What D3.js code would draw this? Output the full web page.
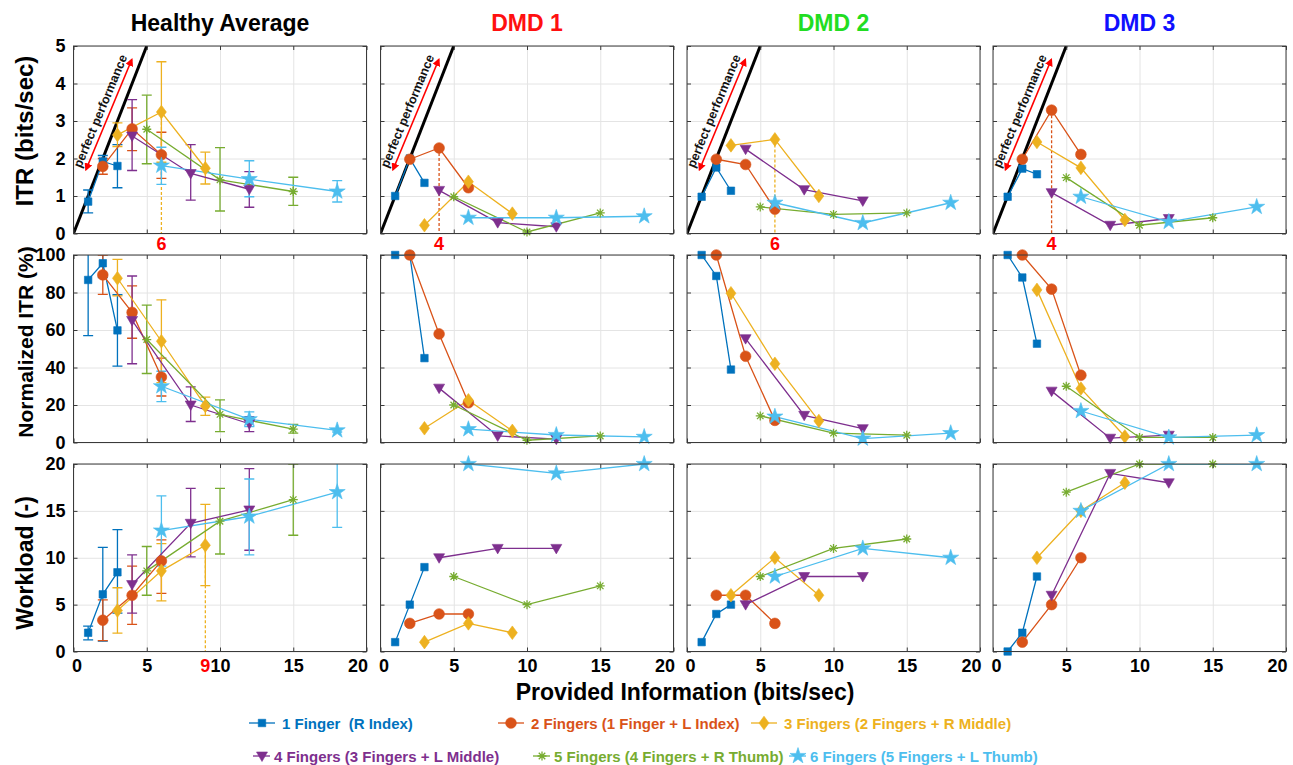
<!DOCTYPE html>
<html>
<head>
<meta charset="utf-8">
<script src="https://cdn.jsdelivr.net/npm/d3@7"></script>
<style>
  body { margin: 0; background: #fff; }
  svg text { font-family: "Liberation Sans", Arial, Helvetica, sans-serif; }
</style>
</head>
<body>
<svg id="chart" width="1293" height="765"></svg>
<script>
// ---- data ----
const columns = ['Healthy Average', 'DMD 1', 'DMD 2', 'DMD 3'];
const seriesNames = [
  '1 Finger  (R Index)',
  '2 Fingers (1 Finger + L Index)',
  '3 Fingers (2 Fingers + R Middle)',
  '4 Fingers (3 Fingers + L Middle)',
  '5 Fingers (4 Fingers + R Thumb)',
  '6 Fingers (5 Fingers + L Thumb)'
];
// provided information (bits/sec) for each finger set
const seriesX = [[1, 2, 3], [2, 4, 6], [3, 6, 9], [4, 8, 12], [5, 10, 15], [6, 12, 18]];
const xTicks = [0, 5, 10, 15, 20];

// ITR (bits/sec)
const itrHealthy = [[0.85, 1.92, 1.8], [1.79, 2.79, 2.1], [2.63, 3.24, 1.74], [2.6, 1.6, 1.18], [2.78, 1.43, 1.12], [1.81, 1.45, 1.12]];
const itrHealthyErr = [
  [[0.55, 1.16], [1.76, 2.08], [1.22, 2.37]],
  [[1.58, 2.0], [2.21, 3.35], [1.47, 2.7]],
  [[2.32, 2.95], [1.9, 4.58], [1.32, 2.17]],
  [[1.68, 3.57], [0.89, 2.37], [0.7, 1.65]],
  [[1.86, 3.69], [0.6, 2.29], [0.75, 1.5]],
  [[1.31, 2.3], [0.98, 1.94], [0.84, 1.41]]
];
const itrDMD1 = [[1.0, 2.0, 1.35], [1.98, 2.28, 1.22], [0.22, 1.38, 0.53], [1.15, 0.29, 0.18], [0.98, 0.04, 0.55], [0.42, 0.42, 0.46]];
const itrDMD2 = [[0.98, 1.76, 1.14], [1.98, 1.84, 0.65], [2.35, 2.51, 1.0], [2.25, 1.17, 0.87], [0.71, 0.51, 0.55], [0.82, 0.28, 0.82]];
const itrDMD3 = [[0.98, 1.73, 1.58], [1.98, 3.29, 2.11], [2.44, 1.75, 0.36], [1.09, 0.22, 0.4], [1.49, 0.22, 0.42], [0.98, 0.31, 0.71]];

// Normalized ITR (%)
const nitrHealthy = [[86.7, 95.6, 59.8], [89.4, 69.4, 34.9], [87.6, 54, 19.5], [65.1, 20, 10], [54.9, 15, 7.1], [30, 12.4, 6.5]];
const nitrHealthyErr = [
  [[57, 116], [88, 103], [40.7, 78.8]],
  [[79, 100], [55.6, 83.5], [24.8, 45]],
  [[78.2, 97.7], [31.9, 76.1], [14.5, 24.2]],
  [[42, 88.8], [11.2, 29.7], [5.8, 13.8]],
  [[36.8, 73.3], [5.8, 22.7], [5, 9.7]],
  [[21.8, 38], [8.5, 16.3], [5.6, 7.4]]
];
const nitrDMD1 = [[100, 100, 45], [100, 57.9, 21.2], [7.6, 22.5, 6.2], [29, 3.5, 1.8], [20, 1.2, 3.5], [7.1, 4, 3]];
const nitrDMD2 = [[100, 88.8, 38.9], [100, 46, 11.8], [79.6, 42, 11.5], [55.4, 14.5, 7.4], [14.2, 5, 3.9], [13.8, 2.1, 5]];
const nitrDMD3 = [[100, 88, 52.7], [100, 81.8, 35.9], [81.4, 28.8, 3.2], [27.4, 2.3, 3.9], [30, 2.7, 2.7], [16.8, 2.7, 3.9]];

// Workload (-)
const workHealthy = [[2.0, 6.1, 8.45], [3.34, 6.0, 9.66], [4.37, 8.6, 11.33], [7.14, 13.68, 15.1], [8.6, 13.9, 16.2], [12.9, 14.4, 17.0]];
const workHealthyErr = [
  [[1.25, 2.7], [1.1, 11.1], [4.1, 13]],
  [[1.15, 5.5], [2.9, 9.1], [6.2, 11.9]],
  [[1.95, 6.8], [5.4, 11.5], [7.03, 15.7]],
  [[4.1, 10.3], [10.1, 17.4], [10.8, 19.5]],
  [[6.0, 11.2], [10.4, 17.4], [12.4, 20]],
  [[9.1, 16.6], [10.3, 18.4], [13.25, 20.8]]
];
const workDMD1 = [[1, 5, 9], [3, 4, 4], [1, 3, 2], [10, 11, 11], [8, 5, 7], [20, 19, 20]];
const workDMD2 = [[1, 4, 5], [6, 6, 3], [6, 10, 6], [5, 8, 8], [8, 11, 12], [8, 11, 10]];
const workDMD3 = [[0, 2, 8], [1, 5, 10], [10, 15, 18], [6, 19, 18], [17, 20, 20], [15, 20, 20]];

// peak ITR marks (x, and which series), workload mark on healthy
const peakX = [6, 4, 6, 4];
const peakSeries = [2, 1, 2, 1];
const workMarkX = 9, workMarkSeries = 2;

// ---- layout / style ----
const colors = ['#0072BD', '#D95319', '#EDB120', '#7E2F8E', '#77AC30', '#4DBEEE'];
const titleColors = ['#000000', '#FF1010', '#22DD22', '#1010FF'];
const colLeft = [73.5, 380.5, 687, 993];
const rowTop = [46, 255, 464];
const panelW = 293, panelH = 187.5;

const metrics = [
  { label: 'ITR (bits/sec)', size: 24, cy: 131, domain: [0, 5], ticks: [0, 1, 2, 3, 4, 5],
    values: [itrHealthy, itrDMD1, itrDMD2, itrDMD3], err: itrHealthyErr },
  { label: 'Normalized ITR (%)', size: 21, cy: 342, domain: [0, 100], ticks: [0, 20, 40, 60, 80, 100],
    values: [nitrHealthy, nitrDMD1, nitrDMD2, nitrDMD3], err: nitrHealthyErr },
  { label: 'Workload (-)', size: 23, cy: 563, domain: [0, 20], ticks: [0, 5, 10, 15, 20],
    values: [workHealthy, workDMD1, workDMD2, workDMD3], err: workHealthyErr }
];

const svg = d3.select('#chart');
const defs = svg.append('defs');

defs.append('marker')
  .attr('id', 'arrowhead')
  .attr('viewBox', '0 0 10 10')
  .attr('refX', 8).attr('refY', 5)
  .attr('markerWidth', 5).attr('markerHeight', 5)
  .attr('orient', 'auto-start-reverse')
  .append('path').attr('d', 'M0,0L10,5L0,10Z').attr('fill', '#FF0000');

// marker shapes
function markerPath(i) {
  switch (i) {
    case 0: return d3.symbol(d3.symbolSquare, 56)();
    case 1: return d3.symbol(d3.symbolCircle, 90)();
    case 2: return 'M0,-6.8L5,0L0,6.8L-5,0Z';
    case 3: return 'M-5.5,-4L5.5,-4L0,5.5Z';
    case 4: { // asterisk
      const r = 4.5, d = r * 0.72;
      return `M${-r},0L${r},0M0,${-r}L0,${r}M${-d},${-d}L${d},${d}M${-d},${d}L${d},${-d}`;
    }
    default: return d3.symbol(d3.symbolStar, 80)();
  }
}
function drawMarker(sel, i) {
  sel.attr('d', markerPath(i))
    .attr('fill', i === 4 ? 'none' : colors[i])
    .attr('stroke', colors[i])
    .attr('stroke-width', i === 4 ? 1.3 : 0.6);
}

const tickFont = 18;

metrics.forEach((m, r) => {
  columns.forEach((name, c) => {
    const g = svg.append('g').attr('transform', `translate(${colLeft[c]},${rowTop[r]})`);
    const x = d3.scaleLinear().domain([0, 20]).range([0, panelW]);
    const y = d3.scaleLinear().domain(m.domain).range([panelH, 0]);
    const clipId = `clip-${r}-${c}`;
    defs.append('clipPath').attr('id', clipId)
      .append('rect').attr('width', panelW).attr('height', panelH);

    g.append('rect').attr('width', panelW).attr('height', panelH).attr('fill', '#fff');

    // grid
    const gx = g.append('g').attr('transform', `translate(0,${panelH})`)
      .call(d3.axisBottom(x).tickValues(xTicks).tickSize(-panelH).tickFormat(''));
    const gy = g.append('g')
      .call(d3.axisLeft(y).tickValues(m.ticks).tickSize(-panelW).tickFormat(''));
    [gx, gy].forEach(a => {
      a.select('.domain').remove();
      a.selectAll('line').attr('stroke', '#e4e4e4').attr('stroke-width', 1);
    });

    const plot = g.append('g').attr('clip-path', `url(#${clipId})`);

    // perfect performance line and annotation
    if (r === 0) {
      plot.append('line')
        .attr('x1', x(0)).attr('y1', y(0)).attr('x2', x(5)).attr('y2', y(5))
        .attr('stroke', '#000').attr('stroke-width', 3);
      const a0 = [x(0.85), y(1.7)], a1 = [x(3.98), y(4.64)];
      plot.append('line')
        .attr('x1', a0[0]).attr('y1', a0[1]).attr('x2', a1[0]).attr('y2', a1[1])
        .attr('stroke', '#FF0000').attr('stroke-width', 1.6)
        .attr('marker-start', 'url(#arrowhead)').attr('marker-end', 'url(#arrowhead)');
      const ang = Math.atan2(a1[1] - a0[1], a1[0] - a0[0]) * 180 / Math.PI;
      const mx = (a0[0] + a1[0]) / 2, my = (a0[1] + a1[1]) / 2;
      g.append('text')
        .attr('transform', `translate(${mx},${my}) rotate(${ang})`)
        .attr('y', -5)
        .attr('text-anchor', 'middle')
        .attr('font-size', 12.5).attr('font-weight', 'bold')
        .attr('fill', '#111')
        .text('perfect performance');

      // dashed drop line at peak
      const si = peakSeries[c];
      const k = seriesX[si].indexOf(peakX[c]);
      plot.append('line')
        .attr('x1', x(peakX[c])).attr('x2', x(peakX[c]))
        .attr('y1', y(m.values[c][si][k])).attr('y2', y(0))
        .attr('stroke', colors[si]).attr('stroke-width', 1.3)
        .attr('stroke-dasharray', '3,2');
      g.append('text')
        .attr('x', x(peakX[c])).attr('y', panelH + 16)
        .attr('text-anchor', 'middle')
        .attr('font-size', 18).attr('font-weight', 'bold')
        .attr('fill', '#FF0000')
        .text(peakX[c]);
    }
    if (r === 2 && c === 0) {
      const k = seriesX[workMarkSeries].indexOf(workMarkX);
      plot.append('line')
        .attr('x1', x(workMarkX)).attr('x2', x(workMarkX))
        .attr('y1', y(m.values[c][workMarkSeries][k])).attr('y2', y(0))
        .attr('stroke', colors[workMarkSeries]).attr('stroke-width', 1.3)
        .attr('stroke-dasharray', '3,2');
    }

    // error bars (healthy average only)
    if (c === 0) {
      m.err.forEach((pts, i) => {
        const eb = plot.append('g').attr('stroke', colors[i]).attr('stroke-width', 1.3);
        pts.forEach((e, k) => {
          const px = x(seriesX[i][k]);
          eb.append('line').attr('x1', px).attr('x2', px).attr('y1', y(e[0])).attr('y2', y(e[1]));
          eb.append('line').attr('x1', px - 5).attr('x2', px + 5).attr('y1', y(e[0])).attr('y2', y(e[0]));
          eb.append('line').attr('x1', px - 5).attr('x2', px + 5).attr('y1', y(e[1])).attr('y2', y(e[1]));
        });
      });
    }

    // series lines and markers
    const line = d3.line().x(d => x(d[0])).y(d => y(d[1]));
    m.values[c].forEach((vals, i) => {
      const pts = vals.map((v, k) => [seriesX[i][k], v]);
      plot.append('path').attr('d', line(pts))
        .attr('fill', 'none').attr('stroke', colors[i]).attr('stroke-width', 1.3);
    });
    m.values[c].forEach((vals, i) => {
      const pts = vals.map((v, k) => [seriesX[i][k], v]);
      g.append('g').selectAll('path').data(pts).join('path')
        .attr('transform', d => `translate(${x(d[0])},${y(d[1])})`)
        .call(drawMarker, i);
    });

    // frame and inward ticks on all sides
    const axes = [
      g.append('g').attr('class', 'xaxis').attr('transform', `translate(0,${panelH})`)
        .call(d3.axisBottom(x).tickValues(xTicks).tickSizeInner(-4).tickSizeOuter(0).tickPadding(8)
          .tickFormat(r === 2 ? d3.format('d') : '')),
      g.append('g')
        .call(d3.axisTop(x).tickValues(xTicks).tickSizeInner(-4).tickSizeOuter(0).tickFormat('')),
      g.append('g')
        .call(d3.axisLeft(y).tickValues(m.ticks).tickSizeInner(-4).tickSizeOuter(0).tickPadding(8)
          .tickFormat(c === 0 ? d3.format('d') : '')),
      g.append('g').attr('transform', `translate(${panelW},0)`)
        .call(d3.axisRight(y).tickValues(m.ticks).tickSizeInner(-4).tickSizeOuter(0).tickFormat(''))
    ];
    axes.forEach(a => {
      a.select('.domain').remove();
      a.selectAll('line').attr('stroke', '#3a3a3a');
      a.selectAll('text').attr('fill', '#000').attr('font-size', tickFont).attr('font-weight', 'bold')
        .attr('font-family', '"Liberation Sans", Arial, sans-serif');
    });
    // keep the end labels inside the axis span like the reference
    axes[0].selectAll('.tick text')
      .filter(d => d === 20).attr('text-anchor', 'end').attr('x', 1);
    axes[0].selectAll('.tick text')
      .filter(d => d === 0).attr('x', 3);

    g.append('rect').attr('width', panelW).attr('height', panelH)
      .attr('fill', 'none').attr('stroke', '#3a3a3a').attr('stroke-width', 1);

    if (r === 2 && c === 0) {
      g.append('text')
        .attr('x', x(workMarkX)).attr('y', panelH + 8).attr('dy', '0.71em')
        .attr('text-anchor', 'middle')
        .attr('font-size', tickFont).attr('font-weight', 'bold')
        .attr('fill', '#FF0000')
        .text(workMarkX);
    }

    if (r === 0) {
      svg.append('text')
        .attr('x', colLeft[c] + panelW / 2).attr('y', 31)
        .attr('text-anchor', 'middle')
        .attr('font-size', 23).attr('font-weight', 'bold')
        .attr('fill', titleColors[c])
        .text(name);
    }
  });

  svg.append('text')
    .attr('transform', `translate(33,${m.cy}) rotate(-90)`)
    .attr('text-anchor', 'middle')
    .attr('font-size', m.size).attr('font-weight', 'bold')
    .text(m.label);
});

svg.append('text')
  .attr('x', 685).attr('y', 700)
  .attr('text-anchor', 'middle')
  .attr('font-size', 23).attr('font-weight', 'bold')
  .text('Provided Information (bits/sec)');

// legend
const legendPos = [[262, 723], [511, 723], [764, 723], [262, 756], [542, 756], [798, 756]];
seriesNames.forEach((s, i) => {
  const lg = svg.append('g').attr('transform', `translate(${legendPos[i][0]},${legendPos[i][1]})`);
  const row2 = i >= 3;
  lg.append('line').attr('x1', row2 ? -9 : -13).attr('x2', row2 ? 8 : 13)
    .attr('stroke', colors[i]).attr('stroke-width', 1.3);
  lg.append('path').call(drawMarker, i);
  lg.append('text')
    .attr('x', row2 ? 12 : 20).attr('y', 5.5)
    .attr('font-size', 15).attr('font-weight', 'bold')
    .attr('fill', colors[i])
    .style('white-space', 'pre')
    .text(s);
});
</script>
</body>
</html>
